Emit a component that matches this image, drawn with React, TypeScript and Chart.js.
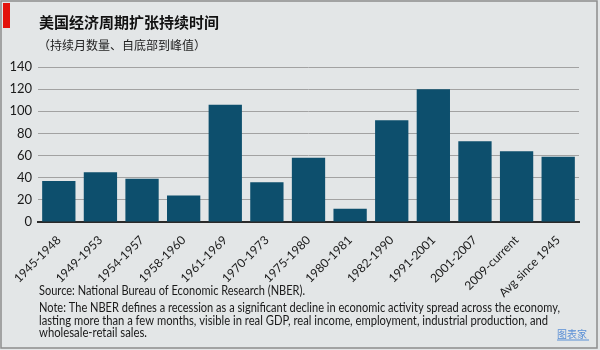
import React, { useEffect, useRef } from "react";
import { Chart, registerables } from "chart.js";

Chart.register(...registerables);

const categories = [
  "1945-1948", "1949-1953", "1954-1957", "1958-1960", "1961-1969", "1970-1973",
  "1975-1980", "1980-1981", "1982-1990", "1991-2001", "2001-2007", "2009-current", "Avg since 1945",
];
const months = [37, 45, 39, 24, 106, 36, 58, 12, 92, 120, 73, 64, 59];
const yTicks = [0, 20, 40, 60, 80, 100, 120, 140];

const titleText = "美国经济周期扩张持续时间";
const subtitleText = "（持续月数量、自底部到峰值）";
const sourceText = "Source: National Bureau of Economic Research (NBER).";
const noteLines = [
  "Note: The NBER defines a recession as a significant decline in economic activity spread across the economy,",
  "lasting more than a few months, visible in real GDP, real income, employment, industrial production, and",
  "wholesale-retail sales.",
];
const watermark = "图表家";

const LATIN = 'Lato, "Open Sans", sans-serif';
const CJK = '"Noto Sans CJK SC", sans-serif';

// footer line layout: [y, width]
const footerY = [290.5, 308, 320.5, 333];
const footerW = [266, 521, 509, 108];

const decor = {
  id: "decor",
  beforeDraw(chart: any) {
    const ctx = chart.ctx;
    const w = chart.width, h = chart.height;
    ctx.save();
    ctx.fillStyle = "#e3e6e7";
    ctx.fillRect(0, 0, w, h);
    ctx.strokeStyle = "#8d8d8d";
    ctx.lineWidth = 1.5;
    ctx.strokeRect(1, 1, w - 4, h - 3);
    ctx.fillStyle = "#e3120b";
    ctx.fillRect(3, 3, 7, 25);
    ctx.restore();
  },
  afterDraw(chart: any) {
    const ctx = chart.ctx;
    ctx.save();
    ctx.textBaseline = "middle";
    ctx.textAlign = "left";
    ctx.fillStyle = "#111";
    ctx.font = "bold 15px " + CJK;
    ctx.fillText(titleText, 39, 22);
    ctx.font = "12px " + CJK;
    ctx.fillStyle = "#222";
    ctx.fillText(subtitleText, 38, 45);

    ctx.font = "12.5px " + LATIN;
    ctx.fillStyle = "#1a1a1a";
    const x0 = 39;
    [sourceText, ...noteLines].forEach((l, i) => {
      const sx = footerW[i] / ctx.measureText(l).width;
      ctx.save();
      ctx.translate(x0, footerY[i]);
      ctx.scale(sx, 1);
      ctx.fillText(l, 0, 0);
      ctx.restore();
    });

    ctx.font = "10px " + CJK;
    ctx.fillStyle = "#5a8fd6";
    ctx.fillText(watermark, 557, 334);
    ctx.fillStyle = "rgba(90,143,214,0.5)";
    ctx.fillRect(557, 339, 32, 2);
    ctx.restore();
  },
};

export default function App() {
  const ref = useRef<HTMLCanvasElement>(null);
  useEffect(() => {
    const chart = new Chart(ref.current!, {
      type: "bar",
      data: {
        labels: categories,
        datasets: [
          {
            data: months,
            backgroundColor: "#0d4f6d",
            barPercentage: 0.8,
            categoryPercentage: 1,
          },
        ],
      },
      options: {
        responsive: false,
        animation: false,
        devicePixelRatio: 1,
        layout: { padding: { left: 0, right: 21, top: 67, bottom: 0 } },
        plugins: { legend: { display: false }, tooltip: { enabled: false }, title: { display: false } },
        scales: {
          x: {
            grid: { display: false },
            border: { display: true, color: "#2a2a2a", width: 2 },
            ticks: {
              maxRotation: 45,
              minRotation: 45,
              autoSkip: false,
              padding: 3,
              color: "#1a1a1a",
              font: { family: LATIN, size: 12 },
            },
            afterFit(scale: any) {
              scale.height = 128;
            },
          },
          y: {
            min: 0,
            max: 140,
            afterBuildTicks(scale: any) {
              scale.ticks = yTicks.map((v) => ({ value: v }));
            },
            grid: { color: "#a2a2a2", lineWidth: 1, drawTicks: false },
            border: { display: false },
            ticks: {
              padding: 6,
              color: "#1a1a1a",
              font: { family: LATIN, size: 13 },
            },
            afterFit(scale: any) {
              scale.width = 38;
            },
          },
        },
      },
      plugins: [decor],
    });
    return () => chart.destroy();
  }, []);
  return (
    <div style={{ position: "absolute", left: 0, top: 0, width: 600, height: 350 }}>
      <canvas ref={ref} width={600} height={350} style={{ display: "block" }} />
    </div>
  );
}
